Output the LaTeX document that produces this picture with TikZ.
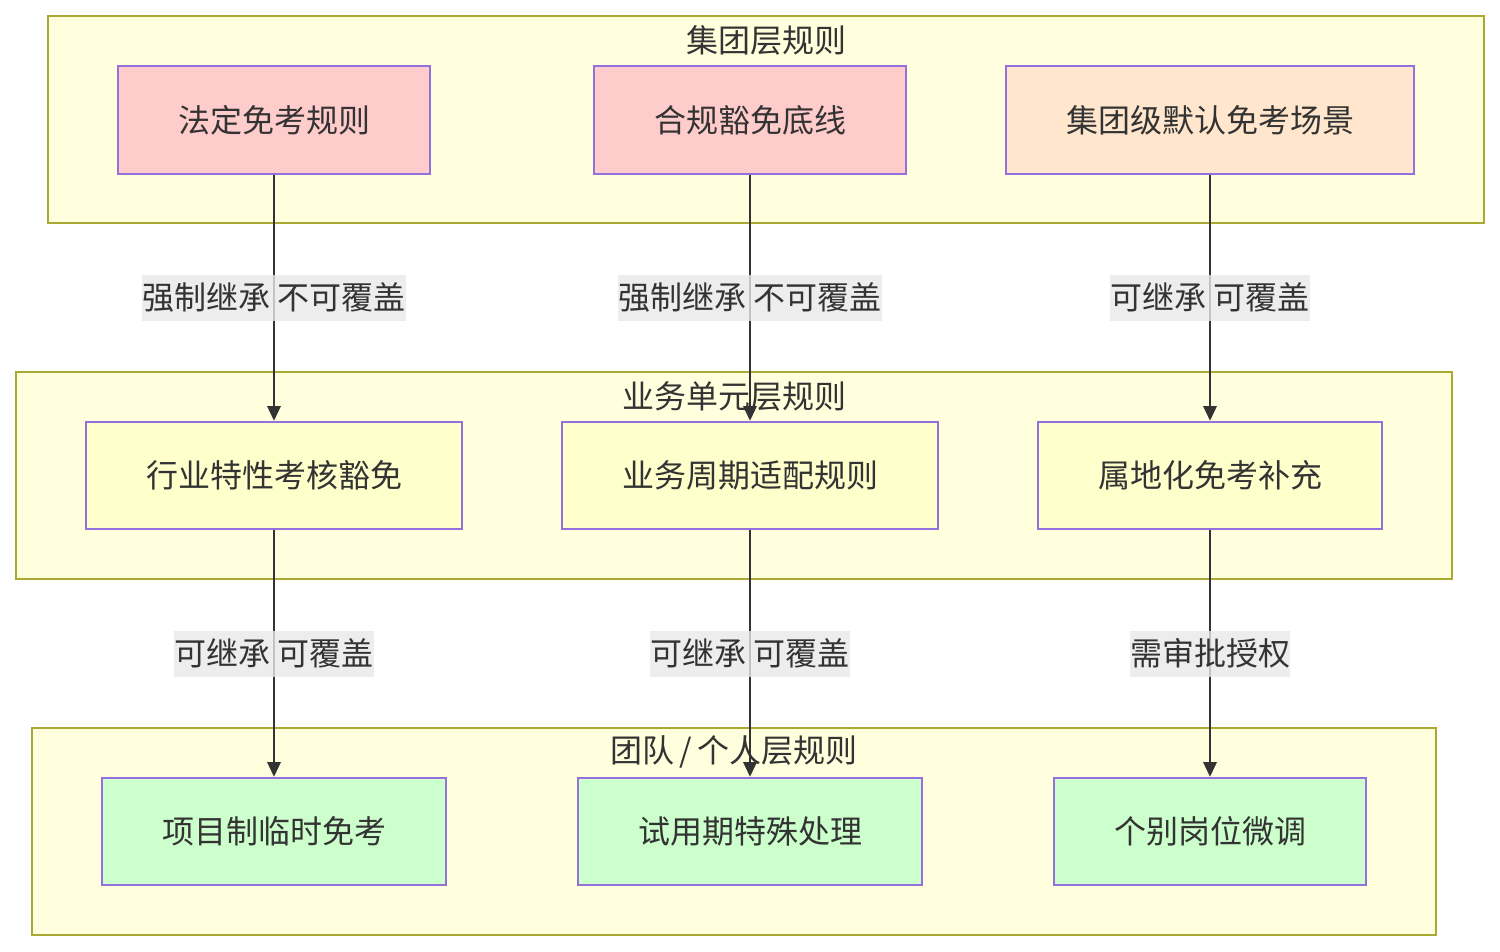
\documentclass[tikz,border=0pt]{standalone}
\usepackage{fontspec}
\newfontfamily\cjk{Noto Sans CJK SC}
\usetikzlibrary{arrows.meta}

\definecolor{layerfill}{HTML}{FFFFDE}
\definecolor{layerline}{HTML}{AAAA33}
\definecolor{nodeline}{HTML}{9370DB}
\definecolor{txt}{HTML}{333333}
\definecolor{pinkfill}{HTML}{FFCCCC}
\definecolor{peachfill}{HTML}{FFE6CC}
\definecolor{yellowfill}{HTML}{FFFFCC}
\definecolor{greenfill}{HTML}{CCFFCC}
\definecolor{labelfill}{HTML}{E8E8E8}

\tikzset{every picture/.style={line width=0.75pt}}
\tikzset{
  layerbox/.style={draw=layerline, fill=layerfill, line width=1.5pt},
  layertitle/.style={font=\cjk\fontsize{24}{28}\selectfont, text=txt, inner sep=0pt},
  rulebox/.style={draw=nodeline, line width=1.5pt, minimum height=80.5pt, inner sep=0pt,
    font=\cjk\fontsize{24}{28}\selectfont, text=txt},
  edgelabel/.style={fill=labelfill, fill opacity=0.8, text opacity=1, text=txt,
    font=\cjk\fontsize{24}{28}\selectfont, inner xsep=0pt, minimum height=34.5pt},
  flow/.style={draw=txt, line width=1.5pt, -{Triangle[length=11pt,width=10pt]}}
}

\begin{document}
\begin{tikzpicture}[x=0.75pt,y=0.75pt,yscale=-1,xscale=1]
\useasboundingbox (0,0) rectangle (1500,952);

%Layer: group
\draw [layerbox] (48,16) rectangle (1484,223);
\node [layertitle] (tgroup) at (766,40) {集团层规则};
%Layer: business unit
\draw [layerbox] (16,372) rectangle (1452,579);
\node [layertitle] (tunit) at (734,396) {业务单元层规则};
%Layer: team / person
\draw [layerbox] (32,728) rectangle (1436,935);
\node [layertitle] (tteam) at (734,752) {团队\,/\,个人层规则};

% Rule nodes
\node [rulebox, fill=pinkfill, minimum width=234pt] (legal) at (274,120) {法定免考规则};
\node [rulebox, fill=pinkfill, minimum width=234pt] (comply) at (750,120) {合规豁免底线};
\node [rulebox, fill=peachfill, minimum width=306pt] (default) at (1210,120) {集团级默认免考场景};

\node [rulebox, fill=yellowfill, minimum width=282pt] (industry) at (274,475.5) {行业特性考核豁免};
\node [rulebox, fill=yellowfill, minimum width=282pt] (cycle) at (750,475.5) {业务周期适配规则};
\node [rulebox, fill=yellowfill, minimum width=258pt] (local) at (1210,475.5) {属地化免考补充};

\node [rulebox, fill=greenfill, minimum width=258pt] (project) at (274,831.5) {项目制临时免考};
\node [rulebox, fill=greenfill, minimum width=258pt] (trial) at (750,831.5) {试用期特殊处理};
\node [rulebox, fill=greenfill, minimum width=234pt] (post) at (1210,831.5) {个别岗位微调};

% Inheritance edges
\draw [flow] (legal) -- node [edgelabel] {强制继承 不可覆盖} (industry);
\draw [flow] (comply) -- node [edgelabel] {强制继承 不可覆盖} (cycle);
\draw [flow] (default) -- node [edgelabel] {可继承 可覆盖} (local);

\draw [flow] (industry) -- node [edgelabel] {可继承 可覆盖} (project);
\draw [flow] (cycle) -- node [edgelabel] {可继承 可覆盖} (trial);
\draw [flow] (local) -- node [edgelabel] {需审批授权} (post);

\end{tikzpicture}
\end{document}
